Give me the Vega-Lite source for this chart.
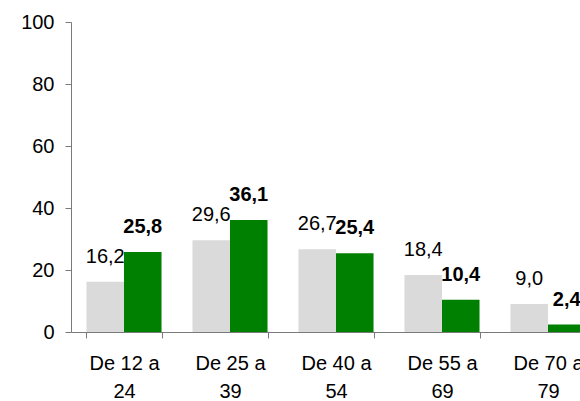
{
  "$schema": "https://vega.github.io/schema/vega-lite/v6.json",
  "width": 509,
  "height": 310,
  "autosize": {"type": "none"},
  "padding": {"left": 71, "top": 22, "right": 0, "bottom": 69},
  "config": {
    "view": {"stroke": null},
    "font": "Liberation Sans",
    "locale": {"number": {"decimal": ",", "thousands": ".", "grouping": [3], "currency": ["", " €"]}}
  },
  "data": {
    "values": [
      {"grupo": "De 12 a 24", "serie": "Serie 1", "valor": 16.2},
      {"grupo": "De 12 a 24", "serie": "Serie 2", "valor": 25.8},
      {"grupo": "De 25 a 39", "serie": "Serie 1", "valor": 29.6},
      {"grupo": "De 25 a 39", "serie": "Serie 2", "valor": 36.1},
      {"grupo": "De 40 a 54", "serie": "Serie 1", "valor": 26.7},
      {"grupo": "De 40 a 54", "serie": "Serie 2", "valor": 25.4},
      {"grupo": "De 55 a 69", "serie": "Serie 1", "valor": 18.4},
      {"grupo": "De 55 a 69", "serie": "Serie 2", "valor": 10.4},
      {"grupo": "De 70 a 79", "serie": "Serie 1", "valor": 9.0},
      {"grupo": "De 70 a 79", "serie": "Serie 2", "valor": 2.4}
    ]
  },
  "encoding": {
    "x": {
      "field": "grupo",
      "type": "nominal",
      "sort": null,
      "scale": {"range": [0, 530], "paddingInner": 0.292, "paddingOuter": 0.146},
      "axis": {
        "title": null,
        "labelAngle": 0,
        "labelFontSize": 20,
        "labelColor": "#000000",
        "labelPadding": 15,
        "labelLineHeight": 28,
        "labelBaseline": "top",
        "labelExpr": "[slice(datum.label, 0, 7), slice(datum.label, 8)]",
        "tickBand": "extent",
        "tickSize": 6,
        "tickColor": "#7a7a7a",
        "domainColor": "#7a7a7a",
        "labelOverlap": false,
        "labelBound": false,
        "labelFlush": false
      }
    },
    "xOffset": {"field": "serie", "type": "nominal", "sort": ["Serie 1", "Serie 2"], "scale": {"paddingInner": 0, "paddingOuter": 0}},
    "y": {
      "field": "valor",
      "type": "quantitative",
      "scale": {"domain": [0, 100], "nice": false},
      "axis": {
        "title": null,
        "values": [0, 20, 40, 60, 80, 100],
        "grid": false,
        "labelFontSize": 20,
        "labelColor": "#000000",
        "labelPadding": 11,
        "tickSize": 6,
        "tickColor": "#7a7a7a",
        "domainColor": "#7a7a7a"
      }
    }
  },
  "layer": [
    {
      "mark": {"type": "bar", "clip": true},
      "encoding": {
        "color": {
          "field": "serie",
          "type": "nominal",
          "scale": {"domain": ["Serie 1", "Serie 2"], "range": ["#dadada", "#008000"]},
          "legend": null
        }
      }
    },
    {
      "transform": [{"filter": "datum.serie === 'Serie 1'"}],
      "mark": {"type": "text", "baseline": "alphabetic", "dy": -19, "fontSize": 20, "color": "#000000", "clip": true},
      "encoding": {"text": {"field": "valor", "type": "quantitative", "format": ".1f"}}
    },
    {
      "transform": [{"filter": "datum.serie === 'Serie 2'"}],
      "mark": {"type": "text", "baseline": "alphabetic", "dy": -19, "fontSize": 20, "fontWeight": "bold", "color": "#000000", "clip": true},
      "encoding": {"text": {"field": "valor", "type": "quantitative", "format": ".1f"}}
    }
  ]
}
